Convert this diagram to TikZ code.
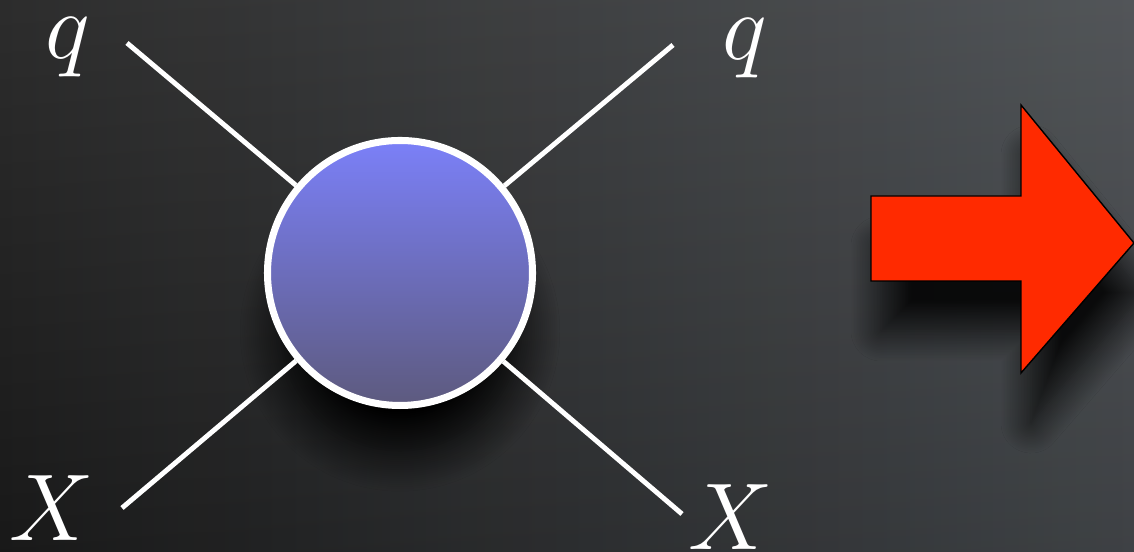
\RequirePackage{fix-cm}
\documentclass[tikz,border=0pt]{standalone}
\usetikzlibrary{shadows.blur}
\definecolor{bgdark}{HTML}{1E1E1E}
\definecolor{bglight}{HTML}{4A4E52}
\definecolor{blobtop}{HTML}{7B80F8}
\definecolor{blobbottom}{HTML}{5D5A7E}
\definecolor{arrowred}{HTML}{FF2A00}

\begin{document}
\begin{tikzpicture}[
    leg/.style={draw=white, line width=2.8pt},
    particle/.style={text=white, anchor=base, inner sep=0pt, font=\fontsize{54}{60}\selectfont},
    blob/.style={circle, draw=white, line width=4pt, top color=blobtop, bottom color=blobbottom, minimum size=5.3cm, inner sep=0pt,
        blur shadow={shadow xshift=0pt, shadow yshift=-1.3cm, shadow scale=0.9, shadow blur radius=0.9cm, shadow blur steps=20, shadow opacity=100}},
    bigarrow/.style={fill=arrowred, draw=black, line width=0.8pt, line join=miter,
        blur shadow={shadow xshift=0.2cm, shadow yshift=-1.0cm, shadow blur radius=0.6cm, shadow blur steps=20, shadow opacity=85}}
]
\useasboundingbox (0,0) rectangle (22.68,11.04);
\fill[left color=bgdark, right color=bglight] (0,0) rectangle (22.68,11.04);
\fill[top color=white, bottom color=black, opacity=0.08] (0,0) rectangle (22.68,11.04);

\node (blob) [blob] at (8.0,5.58) {};

\coordinate (q_in) at (2.54,10.18);
\coordinate (q_out) at (13.46,10.14);
\coordinate (x_in) at (2.44,0.88);
\coordinate (x_out) at (13.64,0.76);

\node (q_in_label) [particle] at (1.36,9.86) {$q$};
\node (q_out_label) [particle] at (14.9,9.84) {$q$};
\node (x_in_label) [particle] at (1.04,0.22) {$X$};
\node (x_out_label) [particle] at (14.62,0.04) {$X$};

\draw[leg] (q_in) -- (blob);
\draw[leg] (q_out) -- (blob);
\draw[leg] (x_in) -- (blob);
\draw[leg] (x_out) -- (blob);

\draw[bigarrow] (17.42,7.12) -- (20.42,7.12) -- (20.42,8.94) -- (22.68,6.18) -- (20.42,3.58) -- (20.42,5.42) -- (17.42,5.42) -- cycle;
\end{tikzpicture}
\end{document}
